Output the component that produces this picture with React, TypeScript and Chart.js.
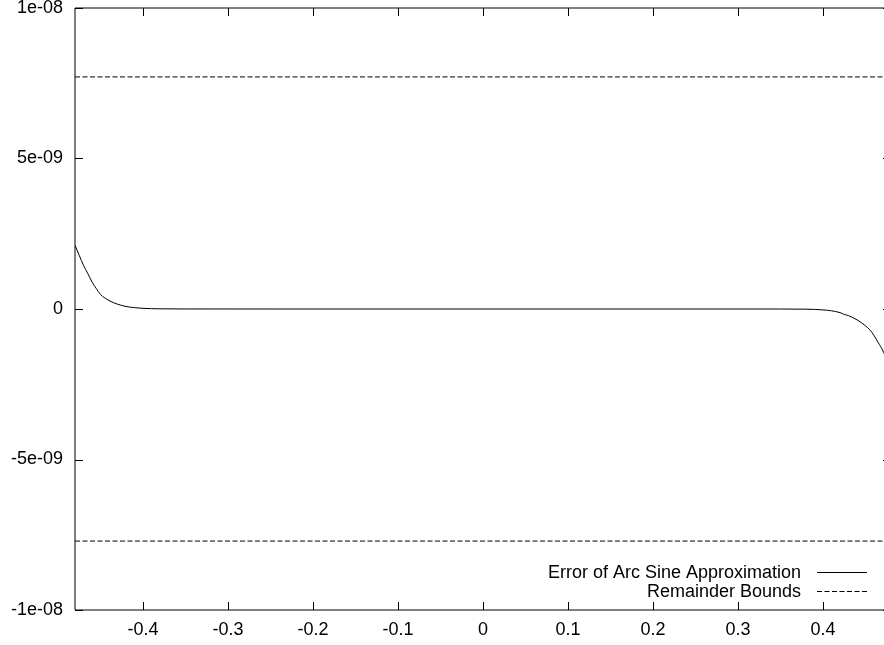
import React, { useEffect, useRef } from "react";
import { Chart, registerables } from "chart.js";

Chart.register(...registerables);

// Error curve samples (x, value)
const xCurve = [
  -0.48, -0.475, -0.47, -0.465, -0.46, -0.455, -0.45, -0.445, -0.44, -0.43,
  -0.42, -0.41, -0.4, -0.38, -0.35, -0.3, -0.2, -0.1, 0, 0.1, 0.2, 0.3, 0.35,
  0.38, 0.4, 0.41, 0.42, 0.425, 0.43, 0.44, 0.445, 0.45, 0.455, 0.46, 0.465,
  0.47, 0.475, 0.48,
];
const errCurve = [
  2.12e-9, 1.78e-9, 1.45e-9, 1.18e-9, 0.9e-9, 0.68e-9, 0.48e-9, 0.37e-9,
  0.28e-9, 0.16e-9, 0.085e-9, 0.045e-9, 0.022e-9, 0.006e-9, 0.001e-9,
  0.0001e-9, 0, 0, 0, 0, 0, -0.0001e-9, -0.001e-9, -0.006e-9, -0.03e-9,
  -0.06e-9, -0.12e-9, -0.18e-9, -0.22e-9, -0.36e-9, -0.45e-9, -0.56e-9,
  -0.69e-9, -0.88e-9, -1.12e-9, -1.36e-9, -1.7e-9, -2.1e-9,
];

// Remainder bounds
const boundX = [-0.48, 0.48];
const upperBound = [7.71e-9, 7.71e-9];
const lowerBound = [-7.71e-9, -7.71e-9];

const seriesLabels = ["Error of Arc Sine Approximation", "Remainder Bounds"];

const xTicks = [-0.4, -0.3, -0.2, -0.1, 0, 0.1, 0.2, 0.3, 0.4];
const xTickLabels = ["-0.4", "-0.3", "-0.2", "-0.1", "0", "0.1", "0.2", "0.3", "0.4"];
const yTicks = [-1e-8, -5e-9, 0, 5e-9, 1e-8];
const yTickLabels = ["-1e-08", "-5e-09", "0", "5e-09", "1e-08"];

const FONT = "'Liberation Sans', Arial, Helvetica, sans-serif";
const DASH = [5, 2.5];

const framePlugin = {
  id: "gnuFrame",
  afterDatasetsDraw(chart: any) {
    const { ctx, chartArea } = chart;
    const { left, right, top, bottom } = chartArea;
    const xs = chart.scales.x;
    const ys = chart.scales.y;
    const tl = 8;
    ctx.save();
    ctx.strokeStyle = "#000";
    ctx.lineWidth = 1;
    ctx.setLineDash([]);
    ctx.beginPath();
    ctx.rect(left, top, right - left, bottom - top);
    ctx.stroke();
    ctx.beginPath();
    xTicks.forEach((v) => {
      const px = Math.round(xs.getPixelForValue(v)) + 0.5;
      ctx.moveTo(px, bottom);
      ctx.lineTo(px, bottom - tl);
      ctx.moveTo(px, top);
      ctx.lineTo(px, top + tl);
    });
    yTicks.forEach((v) => {
      const py = Math.round(ys.getPixelForValue(v)) + 0.5;
      ctx.moveTo(left, py);
      ctx.lineTo(left + tl, py);
      ctx.moveTo(right, py);
      ctx.lineTo(right - tl, py);
    });
    ctx.stroke();

    // legend (gnuplot style: right-aligned text, sample on the right)
    ctx.font = `18px ${FONT}`;
    ctx.fillStyle = "#000";
    ctx.textAlign = "right";
    ctx.textBaseline = "middle";
    const rows = [572.5, 591.5];
    const textRight = 801;
    const sx0 = 817;
    const sx1 = 867;
    chart.data.datasets.slice(0, 2).forEach((ds: any, i: number) => {
      const y = rows[i];
      ctx.fillText(ds.label, textRight, y + 1);
      ctx.beginPath();
      ctx.setLineDash(ds.borderDash || []);
      ctx.strokeStyle = ds.borderColor;
      ctx.lineWidth = 1;
      ctx.moveTo(sx0, y);
      ctx.lineTo(sx1, y);
      ctx.stroke();
    });
    ctx.restore();
  },
};

export default function App() {
  const ref = useRef<HTMLCanvasElement>(null);
  useEffect(() => {
    if (!ref.current) return;
    const chart = new Chart(ref.current, {
      type: "line",
      data: {
        datasets: [
          {
            label: seriesLabels[0],
            data: xCurve.map((x, i) => ({ x, y: errCurve[i] })),
            borderColor: "#000",
            borderWidth: 1,
            pointRadius: 0,
            cubicInterpolationMode: "monotone",
            fill: false,
          },
          {
            label: seriesLabels[1],
            data: boundX.map((x, i) => ({ x, y: upperBound[i] })),
            borderColor: "#000",
            borderWidth: 1,
            borderDash: DASH,
            pointRadius: 0,
            fill: false,
          },
          {
            label: seriesLabels[1] + " (lower)",
            data: boundX.map((x, i) => ({ x, y: lowerBound[i] })),
            borderColor: "#000",
            borderWidth: 1,
            borderDash: DASH,
            pointRadius: 0,
            fill: false,
          },
        ],
      },
      options: {
        animation: false,
        responsive: false,
        maintainAspectRatio: false,
        layout: { padding: { top: 8, right: 9, left: 0, bottom: 0 } },
        plugins: {
          legend: { display: false },
          tooltip: { enabled: false },
        },
        scales: {
          x: {
            type: "linear",
            min: -0.48,
            max: 0.48,
            grid: { display: false, drawTicks: false },
            border: { display: false },
            afterBuildTicks: (s: any) => {
              s.ticks = xTicks.map((v) => ({ value: v }));
            },
            afterFit: (s: any) => {
              s.height = 35;
              s.paddingLeft = 0;
              s.paddingRight = 0;
            },
            ticks: {
              autoSkip: false,
              maxRotation: 0,
              padding: 9,
              color: "#000",
              font: { family: FONT, size: 18 },
              callback: (_v: any, i: number) => xTickLabels[i],
            },
          },
          y: {
            type: "linear",
            min: -1e-8,
            max: 1e-8,
            grid: { display: false, drawTicks: false },
            border: { display: false },
            afterBuildTicks: (s: any) => {
              s.ticks = yTicks.map((v) => ({ value: v }));
            },
            afterFit: (s: any) => {
              s.width = 75;
              s.paddingTop = 0;
              s.paddingBottom = 0;
            },
            ticks: {
              autoSkip: false,
              padding: 12,
              color: "#000",
              font: { family: FONT, size: 18 },
              callback: (_v: any, i: number) => yTickLabels[i],
            },
          },
        },
      },
      plugins: [framePlugin],
    } as any);
    return () => chart.destroy();
  }, []);
  return (
    <div
      style={{
        position: "fixed",
        left: 0,
        top: 0,
        width: 884,
        height: 645,
        overflow: "hidden",
        background: "#fff",
      }}
    >
      <canvas ref={ref} width={900} height={645} style={{ display: "block" }} />
    </div>
  );
}
